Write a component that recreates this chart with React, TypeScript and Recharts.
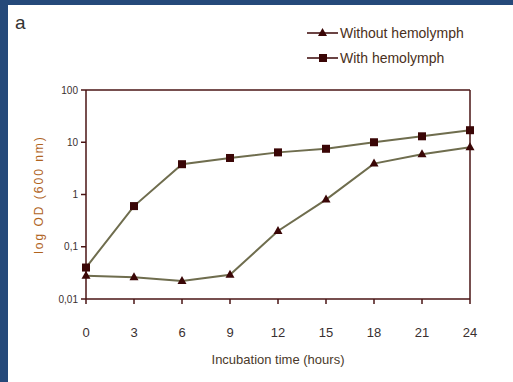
import React from 'react';
import {
  LineChart,
  Line,
  XAxis,
  YAxis,
  ReferenceLine,
} from 'recharts';

const hours = [0, 3, 6, 9, 12, 15, 18, 21, 24];
const withHemolymph = [0.04, 0.6, 3.8, 5.0, 6.4, 7.5, 10, 13, 17];
const withoutHemolymph = [0.028, 0.026, 0.022, 0.029, 0.2, 0.8, 3.9, 5.9, 8];
const xTicks = [0, 3, 6, 9, 12, 15, 18, 21, 24];
const yTicks = [0.01, 0.1, 1, 10, 100];
const seriesNames = ['Without hemolymph', 'With hemolymph'];

const FONT = '"Liberation Sans", Arial, sans-serif';
const FRAME = '#4a1414';
const MARKER = '#3a0606';
const LINE = '#6f6d4e';

const data = hours.map((h, i) => ({
  hour: h,
  without: withoutHemolymph[i],
  with: withHemolymph[i],
}));

const fmtY = (v: number) => String(v).replace('.', ',');

const SquareDot = (props: any) => {
  const { cx, cy, index } = props;
  if (cx == null || cy == null) return <g key={index} />;
  return <rect key={index} x={cx - 4} y={cy - 4} width={8} height={8} fill={MARKER} />;
};

const TriangleDot = (props: any) => {
  const { cx, cy, index } = props;
  if (cx == null || cy == null) return <g key={index} />;
  return (
    <polygon
      key={index}
      points={`${cx},${cy - 5} ${cx - 4.5},${cy + 3} ${cx + 4.5},${cy + 3}`}
      fill={MARKER}
    />
  );
};

function LegendBox() {
  return (
    <div
      style={{
        position: 'absolute',
        left: 307,
        top: 20,
        fontFamily: FONT,
        fontSize: 14,
        color: '#4a3020',
      }}
    >
      {seriesNames.map((name, i) => (
        <div key={name} style={{ display: 'flex', alignItems: 'center', height: 25 }}>
          <svg width={32} height={12}>
            <line x1={0} y1={6} x2={31} y2={6} stroke={MARKER} strokeWidth={1.5} />
            {i === 0 ? (
              <polygon points="15.5,1 11,9 20,9" fill={MARKER} />
            ) : (
              <rect x={12} y={2} width={8} height={8} fill={MARKER} />
            )}
          </svg>
          <span style={{ marginLeft: 1 }}>{name}</span>
        </div>
      ))}
    </div>
  );
}

export default function App() {
  return (
    <div
      style={{
        position: 'absolute',
        left: 0,
        top: 0,
        width: 513,
        height: 382,
        background: '#25497a',
      }}
    >
      <div
        style={{
          position: 'absolute',
          left: 8,
          top: 5,
          width: 505,
          height: 377,
          background: '#ffffff',
        }}
      />
      <div
        style={{
          position: 'absolute',
          left: 15,
          top: 12,
          fontFamily: FONT,
          fontSize: 19,
          color: '#333333',
        }}
      >
        a
      </div>
      <LegendBox />
      <div style={{ position: 'absolute', left: 0, top: 0 }}>
        <LineChart
          width={513}
          height={382}
          data={data}
          margin={{ top: 90, right: 43, bottom: 53, left: 46 }}
        >
          <XAxis
            dataKey="hour"
            type="number"
            domain={[0, 24]}
            ticks={xTicks}
            height={30}
            stroke={FRAME}
            strokeWidth={1.5}
            tickSize={5}
            tickMargin={24}
            tick={{ fontSize: 13, fill: '#3a3030', fontFamily: FONT }}
            label={{
              content: ({ viewBox }: any) => (
                <text
                  x={viewBox.x + viewBox.width / 2}
                  y={361}
                  textAnchor="middle"
                  dominantBaseline="middle"
                  fontSize={13}
                  fill="#4a3a2a"
                  fontFamily={FONT}
                >
                  Incubation time (hours)
                </text>
              ),
            }}
          />
          <YAxis
            scale="log"
            type="number"
            domain={[0.01, 100]}
            ticks={yTicks}
            allowDataOverflow
            width={40}
            stroke={FRAME}
            strokeWidth={1.5}
            tickSize={5}
            tickMargin={3}
            tickFormatter={fmtY}
            tick={{ fontSize: 10, fill: '#3a3030', fontFamily: FONT }}
            label={{
              content: ({ viewBox }: any) => {
                const cy = viewBox.y + viewBox.height / 2;
                return (
                  <text
                    x={40}
                    y={cy}
                    transform={`rotate(-90 40 ${cy})`}
                    textAnchor="middle"
                    dominantBaseline="middle"
                    fontSize={12}
                    letterSpacing={2}
                    fill="#b0641e"
                    fontFamily={FONT}
                  >
                    log OD (600 nm)
                  </text>
                );
              },
            }}
          />
          <ReferenceLine y={100} stroke={FRAME} strokeWidth={1.5} />
          <ReferenceLine x={24} stroke={FRAME} strokeWidth={1.5} />
          <Line
            dataKey="without"
            name={seriesNames[0]}
            type="linear"
            stroke={LINE}
            strokeWidth={2}
            dot={TriangleDot}
            activeDot={false}
            isAnimationActive={false}
          />
          <Line
            dataKey="with"
            name={seriesNames[1]}
            type="linear"
            stroke={LINE}
            strokeWidth={2}
            dot={SquareDot}
            activeDot={false}
            isAnimationActive={false}
          />
        </LineChart>
      </div>
    </div>
  );
}
